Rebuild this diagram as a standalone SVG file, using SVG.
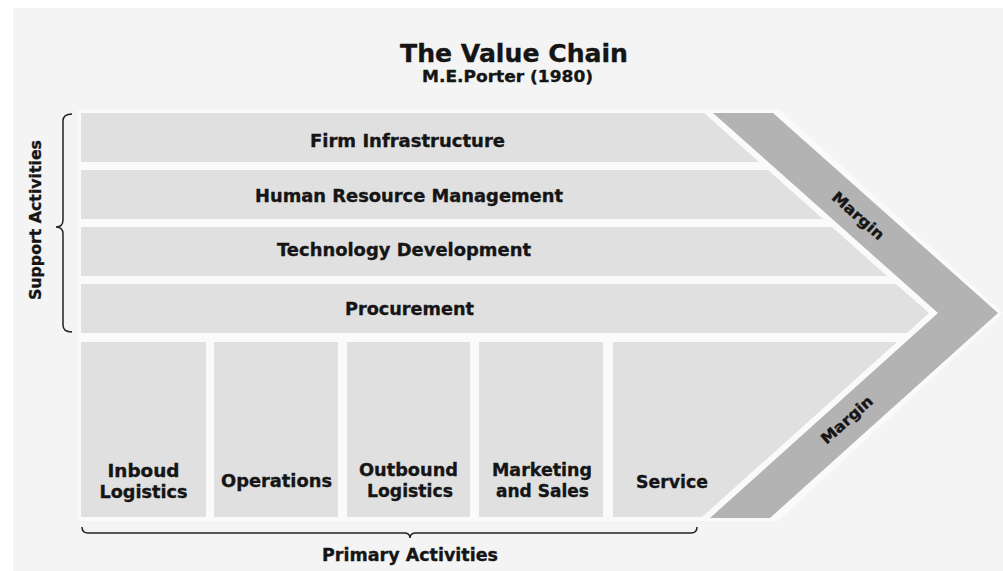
<svg xmlns="http://www.w3.org/2000/svg" width="1003" height="571" viewBox="0 0 1003 571">
<style>
.t{font-family:"DejaVu Sans","Liberation Sans",sans-serif;font-weight:bold;fill:#151515;stroke:#151515;stroke-width:0.35;text-anchor:middle}
.b{font-size:17.5px}
.bar{fill:#e0e0e0}
.band{fill:#b3b3b3}
.br{fill:none;stroke:#222;stroke-width:1.5}
</style>
<rect x="0" y="0" width="1003" height="571" fill="#ffffff"/>
<rect x="13" y="8" width="990" height="563" fill="#f4f4f4"/>
<polygon points="78,110 780,110 1003,313 778,521 78,521" fill="#fafafa"/>
<g id="title">
<text class="t" x="514" y="62" font-size="25" textLength="228" lengthAdjust="spacingAndGlyphs">The Value Chain</text>
<text class="t" x="507.5" y="82" font-size="16" textLength="171" lengthAdjust="spacingAndGlyphs">M.E.Porter (1980)</text>
</g>
<g id="margin">
<polygon class="band" points="713,113 773,113 998,313 770,518 710,518 938,313"/>
<text class="t" font-size="15" transform="translate(858,216) rotate(41.6)" y="5" textLength="64" lengthAdjust="spacingAndGlyphs">Margin</text>
<text class="t" font-size="15" transform="translate(847,420) rotate(-41.6)" y="5" textLength="64" lengthAdjust="spacingAndGlyphs">Margin</text>
</g>
<g id="firm-infrastructure">
<polygon class="bar" points="81,113 704,113 759,162 81,162"/>
<text class="t b" x="407.5" y="147" textLength="195" lengthAdjust="spacingAndGlyphs">Firm Infrastructure</text>
</g>
<g id="human-resource-management">
<polygon class="bar" points="81,170 768,170 823,219 81,219"/>
<text class="t b" x="409" y="202" textLength="308" lengthAdjust="spacingAndGlyphs">Human Resource Management</text>
</g>
<g id="technology-development">
<polygon class="bar" points="81,227 832,227 887,276 81,276"/>
<text class="t b" x="404" y="256" textLength="254" lengthAdjust="spacingAndGlyphs">Technology Development</text>
</g>
<g id="procurement">
<polygon class="bar" points="81,284 896,284 929,313 907,333 81,333"/>
<text class="t b" x="409.5" y="315" textLength="129" lengthAdjust="spacingAndGlyphs">Procurement</text>
</g>
<g id="inbound-logistics">
<rect class="bar" x="81" y="342" width="125" height="175"/>
<text class="t b" x="143.5" y="477" textLength="72" lengthAdjust="spacingAndGlyphs">Inboud</text>
<text class="t b" x="143.5" y="498" textLength="88" lengthAdjust="spacingAndGlyphs">Logistics</text>
</g>
<g id="operations">
<rect class="bar" x="214" y="342" width="124" height="175"/>
<text class="t b" x="276.5" y="487" textLength="111" lengthAdjust="spacingAndGlyphs">Operations</text>
</g>
<g id="outbound-logistics">
<rect class="bar" x="347" y="342" width="123" height="175"/>
<text class="t b" x="408.5" y="476" textLength="99" lengthAdjust="spacingAndGlyphs">Outbound</text>
<text class="t b" x="410" y="497" textLength="86" lengthAdjust="spacingAndGlyphs">Logistics</text>
</g>
<g id="marketing-and-sales">
<rect class="bar" x="479" y="342" width="124" height="175"/>
<text class="t b" x="542" y="476" textLength="100" lengthAdjust="spacingAndGlyphs">Marketing</text>
<text class="t b" x="542.5" y="497" textLength="93" lengthAdjust="spacingAndGlyphs">and Sales</text>
</g>
<g id="service">
<polygon class="bar" points="613,342 897,342 702,517 613,517"/>
<text class="t b" x="672" y="488" textLength="72" lengthAdjust="spacingAndGlyphs">Service</text>
</g>
<g id="connectors">
<path class="br" d="M72,114 q-9,0 -9,7 V220 q0,7 -7,7 q7,0 7,7 V325 q0,7 9,7"/>
<path class="br" d="M82,527 q0,6 6,6 H404 q6,0 6,5 q0,-5 6,-5 H691 q6,0 6,-6"/>
</g>
<g id="labels">
<text class="t" font-size="16" transform="translate(35,220) rotate(-90)" y="6" textLength="160" lengthAdjust="spacingAndGlyphs">Support Activities</text>
<text class="t b" x="410" y="561" textLength="176" lengthAdjust="spacingAndGlyphs">Primary Activities</text>
</g>
</svg>
